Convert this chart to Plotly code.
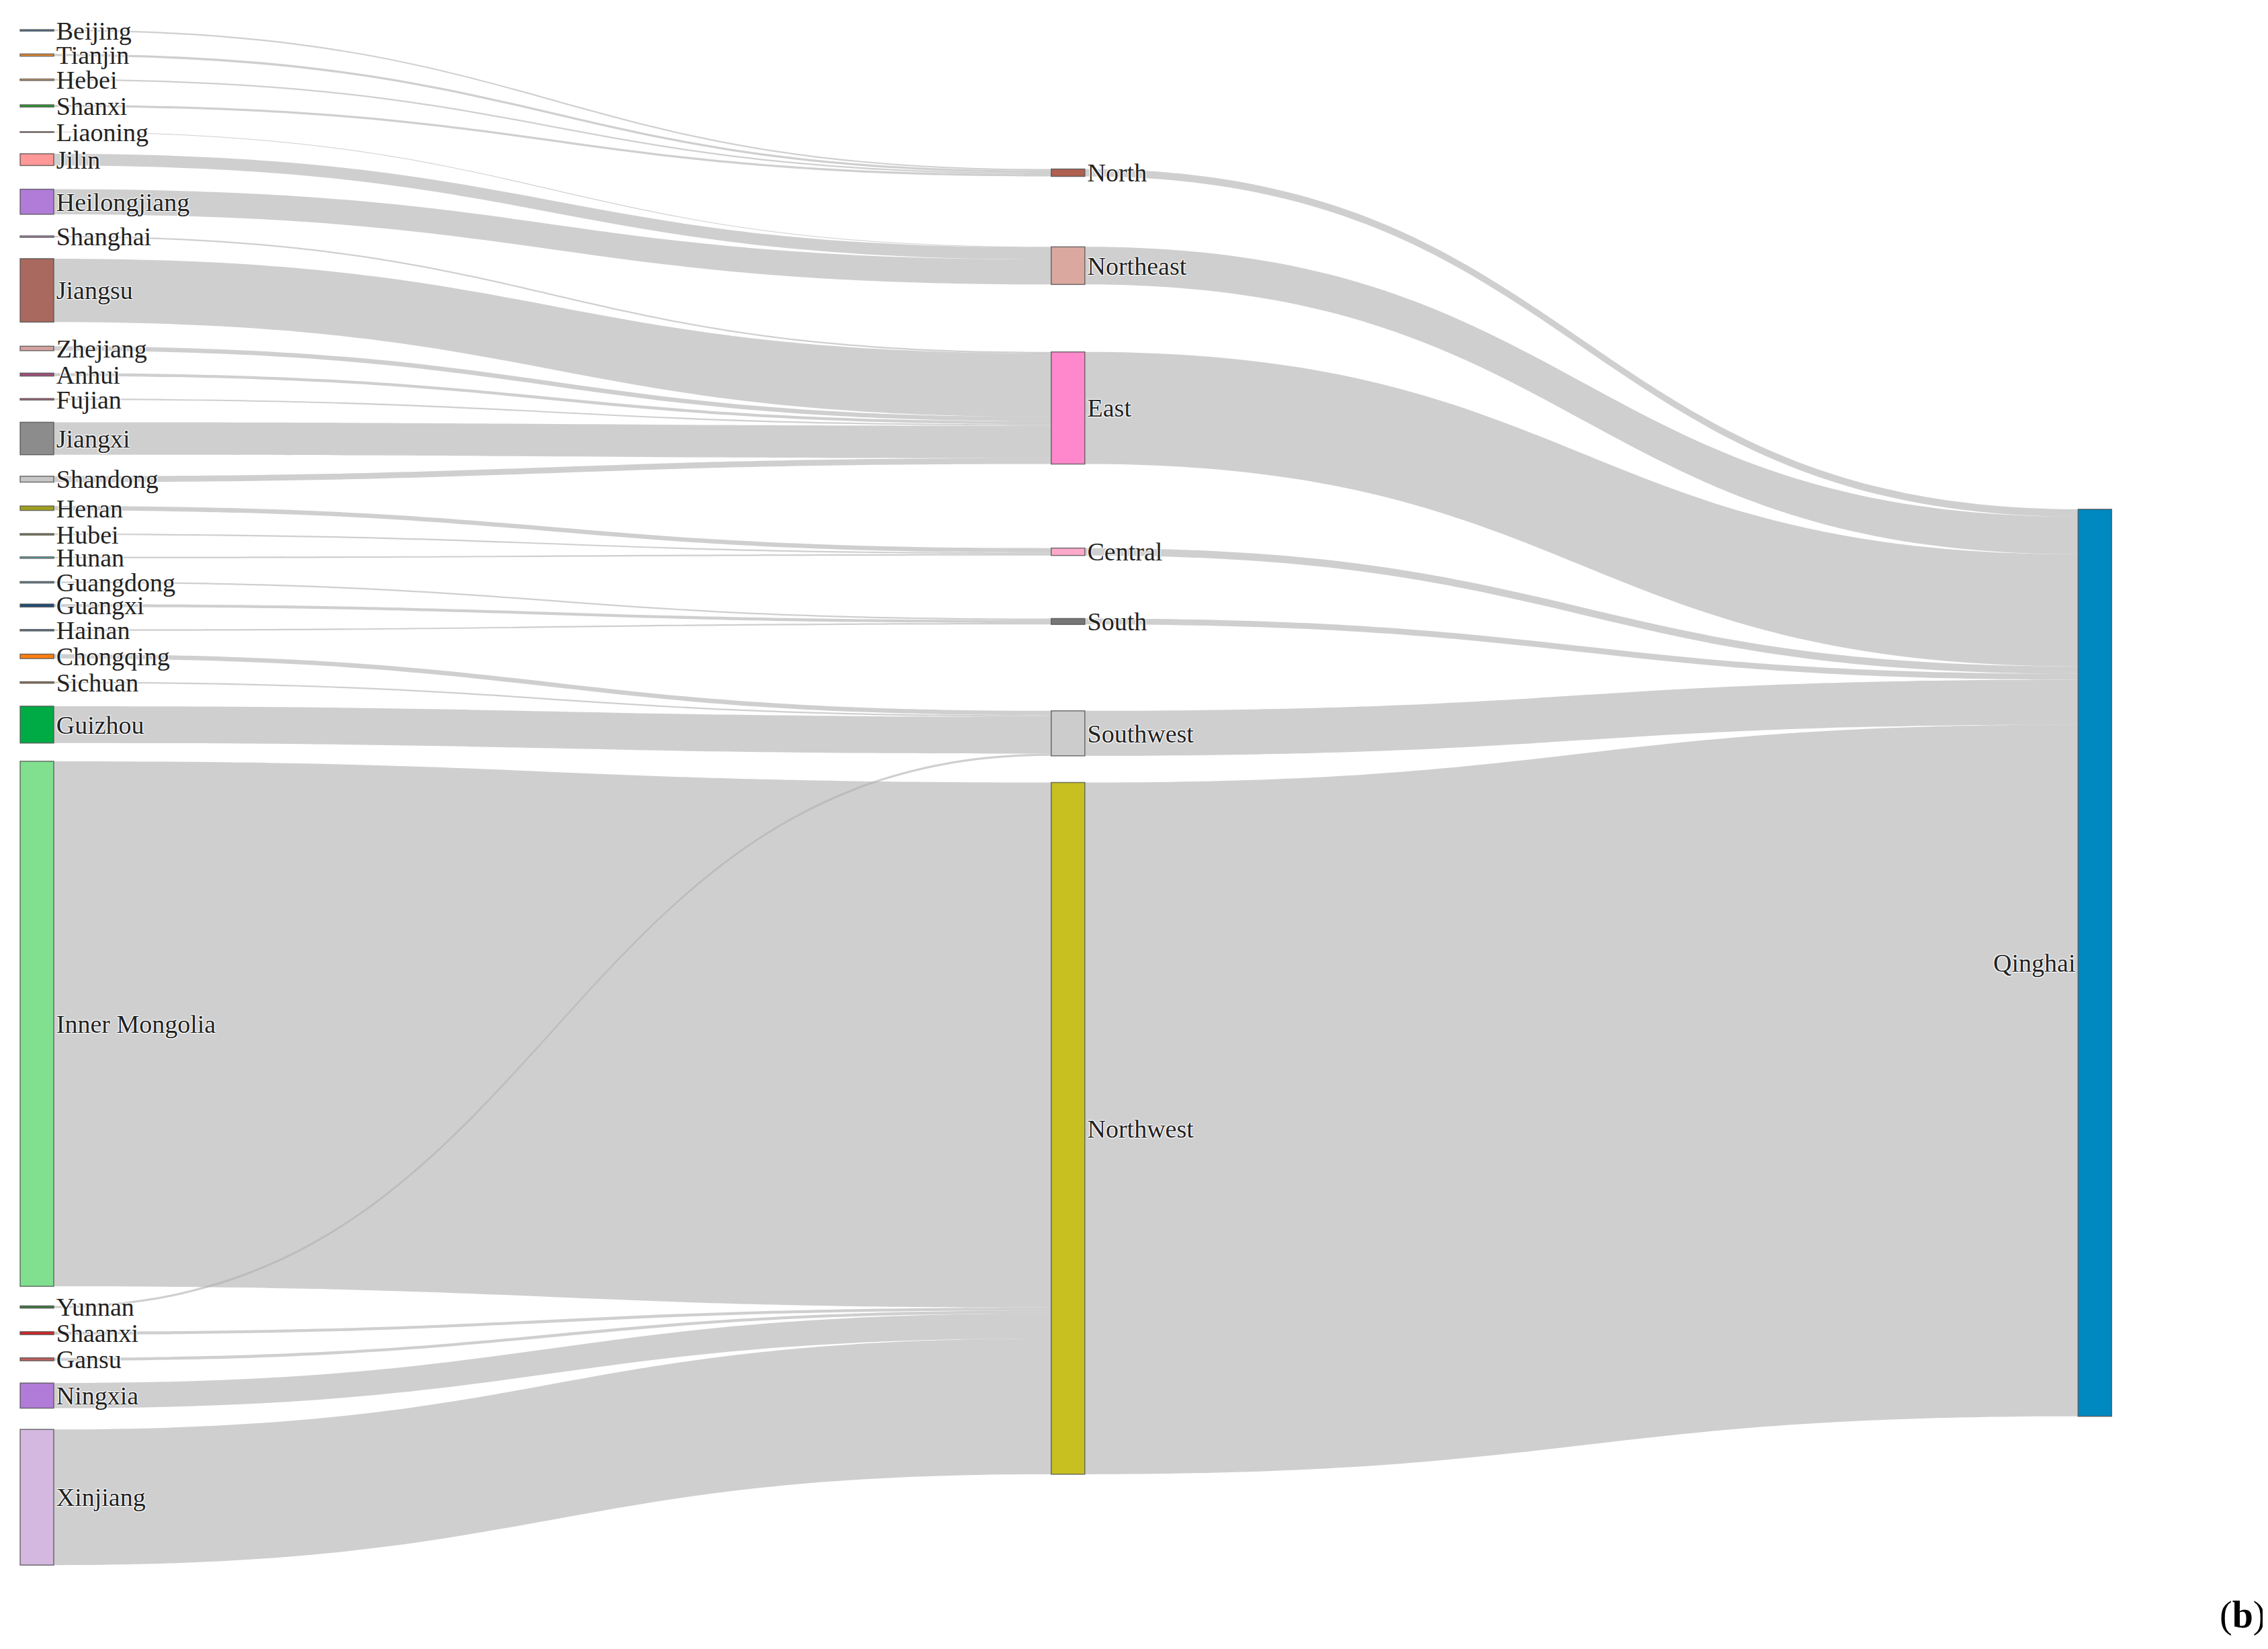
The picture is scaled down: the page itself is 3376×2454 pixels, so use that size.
import plotly.graph_objects as go

provinces = ["Beijing","Tianjin","Hebei","Shanxi","Liaoning","Jilin","Heilongjiang","Shanghai","Jiangsu",
             "Zhejiang","Anhui","Fujian","Jiangxi","Shandong","Henan","Hubei","Hunan","Guangdong","Guangxi",
             "Hainan","Chongqing","Sichuan","Guizhou","Inner Mongolia","Yunnan","Shaanxi","Gansu","Ningxia","Xinjiang"]
prov_region = ["North","North","North","North","Northeast","Northeast","Northeast","East","East",
               "East","East","East","East","East","Central","Central","Central","South","South",
               "South","Southwest","Southwest","Southwest","Northwest","Southwest","Northwest","Northwest","Northwest","Northwest"]
prov_values = [1,1.5,1,1.5,0.5,8,17,1,43,3,2,1,22,4,3,1,1,1,2,1,3,1,25,356,1.5,2,2,17,92]
regions = ["North","Northeast","East","Central","South","Southwest","Northwest"]
target = "Qinghai"

prov_colors = ["#4e79a7","#f28e2b","#e5a86a","#2ca02c","#e57373","#ff9896","#b07cd8","#c49ccb","#a9695e",
               "#d4a3a0","#a0507a","#c26a8a","#8c8c8c","#c7c7c7","#a0a020","#8c8c50","#5fbfbf","#5f8fa0","#1f4e79",
               "#5f7fa0","#ff7f0e","#a07850","#00aa44","#80e090","#3a7a3a","#d62728","#c06060","#b07cd8","#d4b8e0"]
region_colors = ["#b06050","#dba8a0","#ff88cc","#ffaacc","#777777","#cccccc","#c8c020"]
target_color = "#0088c0"

# node centres in reference (display coords), used for node placement
prov_centers = [17,34,51,69,87,106,135,159,196,236,254,271,298,326,346,364,380,397,413,430,448,466,495,701,896,914,932,957,1027]
region_centers = [115,179,277,376,424,501,773]
target_center = 659
top, bottom = 10, 1075

labels = provinces + regions + [target]
colors = prov_colors + region_colors + [target_color]
xs = [0.001]*len(provinces) + [0.493]*len(regions) + [0.983]
ys = [(c-top)/(bottom-top) for c in prov_centers + region_centers + [target_center]]

src, tgt, val = [], [], []
for i, (r, v) in enumerate(zip(prov_region, prov_values)):
    src.append(i); tgt.append(len(provinces)+regions.index(r)); val.append(v)
for j, r in enumerate(regions):
    tot = sum(v for rr, v in zip(prov_region, prov_values) if rr == r)
    src.append(len(provinces)+j); tgt.append(len(labels)-1); val.append(tot)

fig = go.Figure(go.Sankey(
    arrangement="fixed",
    node=dict(label=labels, color=colors, x=xs, y=ys, pad=34, thickness=50,
              line=dict(color="rgba(80,80,80,0.8)", width=1.5)),
    link=dict(source=src, target=tgt, value=val, color="rgba(175,175,175,0.6)"),
    textfont=dict(family="Liberation Serif", size=38, color="#222"),
    domain=dict(x=[0.013, 0.937], y=[0.053, 0.991]),
))
fig.add_annotation(text="(<b>b</b>)", x=0.997, y=0.01, xref="paper", yref="paper",
                   xanchor="right", yanchor="bottom", showarrow=False,
                   font=dict(family="Liberation Serif", size=56, color="black"))
fig.update_layout(width=3376, height=2454, paper_bgcolor="white", plot_bgcolor="white",
                  margin=dict(l=0, r=0, t=0, b=0), font=dict(family="Liberation Serif", size=38))
fig.write_html("out.html")
